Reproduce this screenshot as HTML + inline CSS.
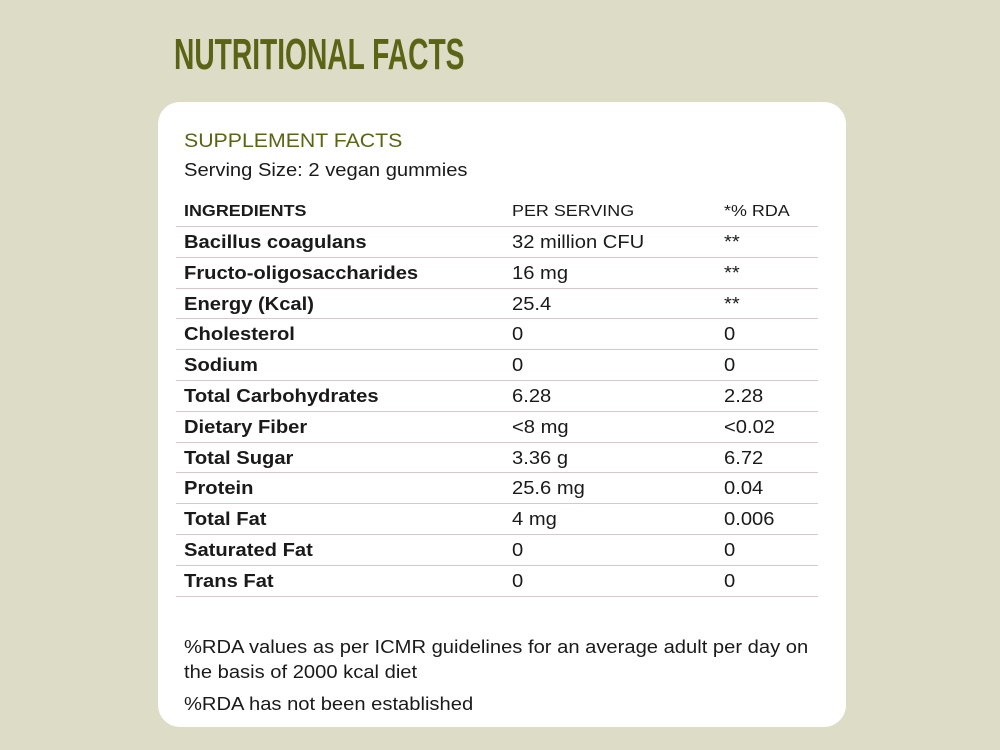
<!DOCTYPE html>
<html><head><style>
body{margin:0;width:1000px;height:750px;background:#dcdcc7;position:relative;overflow:hidden;font-family:"Liberation Sans",sans-serif;color:#1a1a1a}
.t{position:absolute;left:174px;top:30px;font-family:"Liberation Sans Narrow","Liberation Sans",sans-serif;font-weight:bold;font-size:44px;color:#5b6415;transform:scaleX(0.64);transform-origin:0 0;white-space:nowrap}
.card{position:absolute;left:158px;top:102px;width:688px;height:625px;background:#fff;border-radius:22px}
.a{position:absolute;white-space:nowrap;font-size:18px;transform:scaleX(1.12);transform-origin:0 0}
.l{position:absolute;left:176px;width:642px;height:1px;background:#d8c8cc}
</style></head><body>
<div class="t">NUTRITIONAL FACTS</div>
<div class="card"></div>
<div class="a" style="left:184px;top:131px;font-size:19px;color:#5b6415">SUPPLEMENT FACTS</div>
<div class="a" style="left:184px;top:160px">Serving Size: 2 vegan gummies</div>
<div class="a" style="left:184px;top:203px;font-size:16px;font-weight:bold">INGREDIENTS</div>
<div class="a" style="left:512px;top:203px;font-size:16px">PER SERVING</div>
<div class="a" style="left:724px;top:203px;font-size:16px">*% RDA</div>
<div id="rows"></div>
<div class="a" style="left:184px;top:637px">%RDA values as per ICMR guidelines for an average adult per day on</div>
<div class="a" style="left:184px;top:662px">the basis of 2000 kcal diet</div>
<div class="a" style="left:184px;top:694px">%RDA has not been established</div>
<script>
var d=[["Bacillus coagulans","32 million CFU","**"],["Fructo-oligosaccharides","16 mg","**"],["Energy (Kcal)","25.4","**"],["Cholesterol","0","0"],["Sodium","0","0"],["Total Carbohydrates","6.28","2.28"],["Dietary Fiber","<8 mg","<0.02"],["Total Sugar","3.36 g","6.72"],["Protein","25.6 mg","0.04"],["Total Fat","4 mg","0.006"],["Saturated Fat","0","0"],["Trans Fat","0","0"]];
var h='<div class="l" style="top:226px"></div>';
d.forEach(function(r,i){var y=232+i*30.8;
h+='<div class="a" style="left:184px;top:'+y+'px;font-weight:bold">'+r[0].replace('<','&lt;')+'</div>';
h+='<div class="a" style="left:512px;top:'+y+'px">'+r[1].replace('<','&lt;')+'</div>';
h+='<div class="a" style="left:724px;top:'+y+'px">'+r[2].replace('<','&lt;')+'</div>';
h+='<div class="l" style="top:'+(226+(i+1)*30.8)+'px"></div>';});
document.getElementById('rows').innerHTML=h;
</script>
</body></html>
